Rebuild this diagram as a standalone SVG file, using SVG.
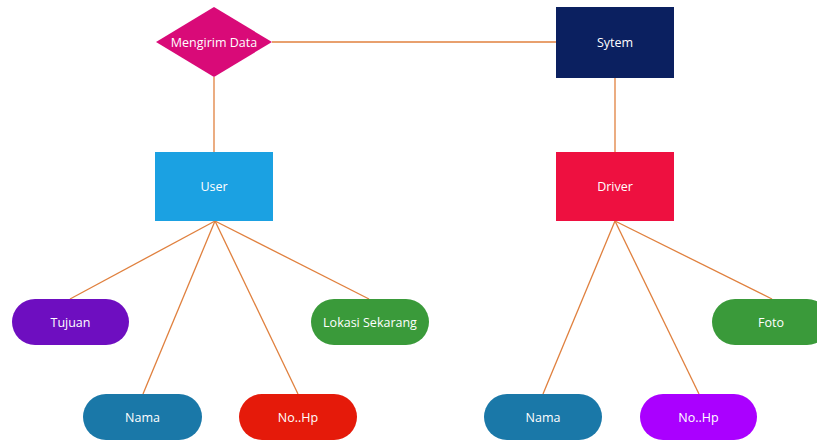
<svg xmlns="http://www.w3.org/2000/svg" width="817" height="441" viewBox="0 0 817 441">
  <style>
    .link { stroke: #e0803e; stroke-width: 1.3; fill: none; }
    .label { font-family: "Open Sans", "Noto Sans", "DejaVu Sans", sans-serif; font-size: 12.5px; fill: #ffffff; text-anchor: middle; dominant-baseline: central; }
  </style>
  <rect width="817" height="441" fill="#ffffff"/>

  <!-- connectors -->
  <g id="connectors">
    <line class="link" x1="272" y1="42" x2="556" y2="42"/>
    <line class="link" x1="214" y1="77" x2="214" y2="152"/>
    <line class="link" x1="615" y1="78" x2="615" y2="152"/>
    <!-- User attributes -->
    <line class="link" x1="215" y1="221" x2="70" y2="299"/>
    <line class="link" x1="215" y1="221" x2="143" y2="394"/>
    <line class="link" x1="215" y1="221" x2="298" y2="394"/>
    <line class="link" x1="215" y1="221" x2="369" y2="299"/>
    <!-- Driver attributes -->
    <line class="link" x1="615" y1="221" x2="543" y2="394"/>
    <line class="link" x1="615" y1="221" x2="699" y2="394"/>
    <line class="link" x1="615" y1="221" x2="772" y2="299"/>
  </g>

  <!-- relationship -->
  <g id="mengirim-data">
    <polygon points="214,7 272,42 214,77 156,42" fill="#d90a78"/>
    <text class="label" x="214" y="42">Mengirim Data</text>
  </g>

  <!-- entities -->
  <g id="sytem">
    <rect x="556" y="7" width="118" height="71" fill="#0b2060"/>
    <text class="label" x="615" y="42">Sytem</text>
  </g>
  <g id="user">
    <rect x="155" y="152" width="118" height="69" fill="#1ba1e2"/>
    <text class="label" x="214" y="186">User</text>
  </g>
  <g id="driver">
    <rect x="556" y="152" width="118" height="69" fill="#ee1040"/>
    <text class="label" x="615" y="186">Driver</text>
  </g>

  <!-- attributes -->
  <g id="tujuan">
    <rect x="12" y="299" width="117" height="46" rx="23" fill="#6e0ec0"/>
    <text class="label" x="70.5" y="322">Tujuan</text>
  </g>
  <g id="user-nama">
    <rect x="83" y="394" width="119" height="46" rx="23" fill="#1a78a8"/>
    <text class="label" x="142.5" y="417">Nama</text>
  </g>
  <g id="user-nohp">
    <rect x="239" y="394" width="118" height="46" rx="23" fill="#e51a0a"/>
    <text class="label" x="298" y="417">No..Hp</text>
  </g>
  <g id="lokasi-sekarang">
    <rect x="311" y="299" width="118" height="46" rx="23" fill="#3a9a3a"/>
    <text class="label" x="370" y="322">Lokasi Sekarang</text>
  </g>
  <g id="driver-nama">
    <rect x="484" y="394" width="118" height="46" rx="23" fill="#1a78a8"/>
    <text class="label" x="543" y="417">Nama</text>
  </g>
  <g id="driver-nohp">
    <rect x="640" y="394" width="117" height="46" rx="23" fill="#aa00ff"/>
    <text class="label" x="698.5" y="417">No..Hp</text>
  </g>
  <g id="foto">
    <rect x="712" y="299" width="118" height="46" rx="23" fill="#3a9a3a"/>
    <text class="label" x="771" y="322">Foto</text>
  </g>
</svg>
